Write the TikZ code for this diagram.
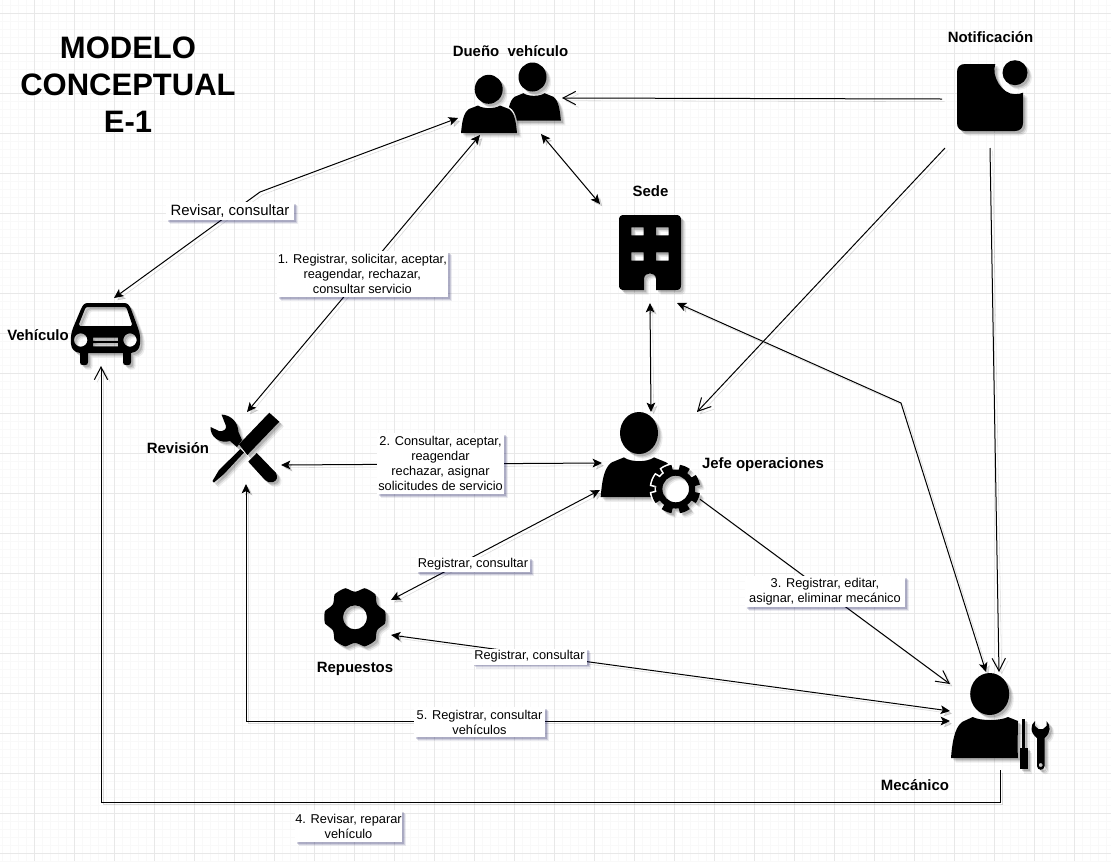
\documentclass[tikz,border=0pt]{standalone}
\usepackage{fontspec}
\setmainfont{Liberation Sans}
\usetikzlibrary{arrows.meta,shadows}
\tikzset{
  gridminor/.style={draw=black!2.5,line width=.5pt},
  gridmajor/.style={draw=black!9,line width=.6pt},
  conn/.style={line width=.75pt,draw=black,
    preaction={draw=black,opacity=.14,transform canvas={shift={(2pt,-2pt)}}}},
  blocktips/.style={conn,{Stealth[length=7pt,width=6.5pt,inset=1.6pt]}-{Stealth[length=7pt,width=6.5pt,inset=1.6pt]}},
  opentip/.style={conn,-{Straight Barb[length=9.5pt,width=10pt,line width=.75pt]}},
  lbl/.style 2 args={fill=white,inner sep=0pt,align=center,font=\fontsize{9.6}{11.25}\selectfont,
    minimum width=#1*.75pt,minimum height=#2*.75pt,
    drop shadow={shadow xshift=3pt,shadow yshift=-3pt,fill=black!70!blue,opacity=.08},
    drop shadow={shadow xshift=2.2pt,shadow yshift=-2.2pt,fill=black!70!blue,opacity=.12},
    drop shadow={shadow xshift=1.4pt,shadow yshift=-1.4pt,fill=black!70!blue,opacity=.16}},
  iconbox/.style 2 args={inner sep=0pt,minimum width=#1*.75pt,minimum height=#2*.75pt},
  nametext/.style={inner sep=0pt,font=\bfseries\fontsize{11.2}{12}\selectfont},
  titletext/.style={inner sep=0pt,align=center,font=\bfseries\fontsize{23.25}{27.75}\selectfont},
}
\newcommand{\shadowed}[1]{%
  \begin{scope}[shift={(4.6,4.6)},fill=black,fill opacity=.07]#1\end{scope}
  \begin{scope}[shift={(3.4,3.4)},fill=black,fill opacity=.11]#1\end{scope}
  \begin{scope}[shift={(2.2,2.2)},fill=black,fill opacity=.15]#1\end{scope}
  \begin{scope}[fill=black]#1\end{scope}}
% generic torso, origin at centre of its base; half width 28, height 27.5
\newcommand{\torso}{(-28,0) .. controls (-27,-10) and (-26,-20) .. (-20,-24) -- (-11,-27.5) .. controls (-6,-24) and (6,-24) .. (11,-27.5) -- (20,-24) .. controls (26,-20) and (27,-10) .. (28,0) -- cycle}
\newcommand{\bellgear}{plot[domain=0:360,samples=361] ({675.7+(cos(8*\x+180)>-0.2?24.5:19.5)*cos(\x)},{489+(cos(8*\x+180)>-0.2?24.5:19.5)*sin(\x)}) -- cycle}
\begin{document}
\begin{tikzpicture}[x=.75pt,y=-.75pt]
\useasboundingbox (0,0) rectangle (1111,861);
\fill[white] (0,0) rectangle (1111,861);
% grid
\foreach \gx in {2,10,...,1110} \draw[gridminor] (\gx,0) -- (\gx,861);
\foreach \gy in {5,13,...,861} \draw[gridminor] (0,\gy) -- (1111,\gy);
\foreach \gx in {34,74,...,1110} \draw[gridmajor] (\gx,0) -- (\gx,861);
\foreach \gy in {13,53,...,861} \draw[gridmajor] (0,\gy) -- (1111,\gy);

% icon anchors
\node[iconbox={100}{70}] (dueno) at (511,98) {};
\node[iconbox={71}{71}] (notif) at (992,96) {};
\node[iconbox={62}{75}] (sede) at (650,252.5) {};
\node[iconbox={69}{62}] (car) at (105.5,334) {};
\node[iconbox={70}{70}] (rev) at (244,447) {};
\node[iconbox={100}{102}] (jefe) at (650,465) {};
\node[iconbox={60}{60}] (rep) at (355,617) {};
\node[iconbox={100}{99}] (mec) at (1001,721.5) {};
\coordinate (wpA) at (260,192);
\coordinate (wpB) at (901,403);
\coordinate (wpC) at (101,802);

% connectors
\draw[opentip] ([shift={(-50,3)}]notif.center) -- ([shift={(51,0)}]dueno.center);
\draw[opentip] ([shift={(-47,52)}]notif.center) -- ([shift={(47,-53)}]jefe.center);
\draw[opentip] ([shift={(-2,52)}]notif.center) -- ([shift={(-2,-49.5)}]mec.center);
\draw[blocktips] ([shift={(30,36)}]dueno.center) -- ([shift={(-50,-48.5)}]sede.center);
\draw[blocktips] ([shift={(0,50.5)}]sede.center) -- ([shift={(1,-53)}]jefe.center);
\draw[blocktips] ([shift={(27,50.5)}]sede.center) -- (wpB) -- ([shift={(-15,-49.5)}]mec.center);
\draw[blocktips] ([shift={(-53,20)}]dueno.center) -- (wpA) -- ([shift={(8.5,-36)}]car.center);
\draw[blocktips] ([shift={(-31,37)}]dueno.center) -- ([shift={(3,-35)}]rev.center);
\draw[blocktips] ([shift={(37,18)}]rev.center) -- ([shift={(-48,-2)}]jefe.center);
\draw[blocktips] ([shift={(-50,25)}]jefe.center) -- ([shift={(36,-17)}]rep.center);
\draw[opentip] ([shift={(47,32)}]jefe.center) -- ([shift={(-51,-37.5)}]mec.center);
\draw[blocktips] ([shift={(36,18)}]rep.center) -- ([shift={(-51,-10.5)}]mec.center);
\draw[blocktips] ([shift={(2,37)}]rev.center) |- ([shift={(-51,-0.5)}]mec.center);
\draw[opentip] ([shift={(-1,48.5)}]mec.center) |- (wpC) -- ([shift={(-4.5,32)}]car.center);

% connector labels
\node[lbl={128}{18},font=\fontsize{11.2}{13}\selectfont] (lrev) at (230,211) {Revisar, consultar};
\node[lbl={171}{46}] (l1) at (362.3,274) {1. Registrar, solicitar, aceptar,\\reagendar, rechazar,\\consultar servicio};
\node[lbl={127}{61}] (l2) at (440.5,463.5) {2. Consultar, aceptar,\\reagendar\\rechazar, asignar\\solicitudes de servicio};
\node[lbl={114}{15}] (lr1) at (473,564.5) {Registrar, consultar};
\node[lbl={115}{16}] (lr2) at (529.5,656.5) {Registrar, consultar};
\node[lbl={160}{31}] (l3) at (825,591.5) {3. Registrar, editar,\\asignar, eliminar mecánico};
\node[lbl={131}{30}] (l5) at (479.5,722) {5. Registrar, consultar\\vehículos};
\node[lbl={107}{32}] (l4) at (348.5,826) {4. Revisar, reparar\\vehículo};

% Dueño
\shadowed{\fill (532.5,77) ellipse[x radius=14,y radius=14.5];
  \begin{scope}[shift={(534,120.7)},xscale=.96]\fill \torso;\end{scope}}
\begin{scope}[shift={(489,133)}]\filldraw[fill=white,draw=white,line width=2.2pt] \torso;\end{scope}
\shadowed{\fill (488.7,89.3) ellipse[x radius=14,y radius=14.5];
  \begin{scope}[shift={(489,133)}]\fill \torso;\end{scope}}

% Notificación
\shadowed{\fill (965,64) -- (995.3,64) .. controls (991,76) and (1002,94.5) .. (1015,94.2) .. controls (1018,94.2) and (1021,93.6) .. (1023,92.7) -- (1023,123) .. controls (1023,128) and (1020,131) .. (1015,131) -- (965,131) .. controls (960,131) and (957,128) .. (957,123) -- (957,72) .. controls (957,67) and (960,64) .. (965,64) -- cycle;
  \fill (1015,72.7) circle[radius=12.5];}

% Sede
\shadowed{\fill[even odd rule] (624,215) -- (676,215) .. controls (679.5,215) and (681,216.5) .. (681,220) -- (681,285) .. controls (681,288.5) and (679.5,290) .. (676,290) -- (656,290) -- (656,279) .. controls (656,271.5) and (644,271.5) .. (644,279) -- (644,290) -- (624,290) .. controls (620.5,290) and (619,288.5) .. (619,285) -- (619,220) .. controls (619,216.5) and (620.5,215) .. (624,215) -- cycle
  (631.3,227.3) rectangle (643.7,235.3) (656,227.3) rectangle (668.7,235.3)
  (631.3,252.3) rectangle (643.7,260.7) (656,252.3) rectangle (668.7,260.7);}

% Vehículo
\shadowed{\fill[even odd rule] (88,303) -- (124,303) .. controls (128,303) and (129,305) .. (131,309) -- (138,328) .. controls (140,333) and (140.5,338) .. (140,344) .. controls (139.5,349) and (137,352) .. (131,353) -- (131,362) .. controls (131,364.5) and (130,365) .. (128,365) -- (126,365) .. controls (124,365) and (123,364.5) .. (123,362) -- (123,353) -- (88,353) -- (88,362) .. controls (88,364.5) and (87,365) .. (85,365) -- (83,365) .. controls (81,365) and (80,364.5) .. (80,362) -- (80,353) .. controls (74,352) and (71.5,349) .. (71,344) .. controls (70.5,338) and (71,333) .. (73,328) -- (81,309) .. controls (83,305) and (84,303) .. (88,303) -- cycle
  (88,307) -- (124,307) .. controls (126,307) and (126.5,308) .. (127,309) -- (132,324) -- (131,326) -- (80,326) -- (79,324) -- (85,309) .. controls (85.5,308) and (86,307) .. (88,307) -- cycle
  (80.7,340) circle[radius=6.7] (130,340) circle[radius=6.7]
  (93,337.5) rectangle (118,340.8) (93,343) rectangle (118,346.3);}

% Revisión
\shadowed{\fill (269.3,412.7) -- (279.3,421.7) -- (247.3,455) -- (239,444.3) -- cycle;
  \fill (240.5,449) -- (244,452.5) -- (224,474) -- (214,482.5) -- (212.5,481) -- (219,470) -- cycle;
  \fill (256.7,453) -- (276,473) .. controls (278,477) and (277,481) .. (273,482) .. controls (270,483) and (267,482) .. (265,480) -- (248.3,461.7) -- cycle;
  \fill (221.5,414.5) .. controls (231,415) and (238,422) .. (238.5,432) -- (242,440) -- (237,447) -- (230,441) .. controls (220,444) and (210,437) .. (210.5,427) -- (219,431) .. controls (223,432) and (227,429) .. (226,426) -- cycle;}

% Jefe
\shadowed{\fill (639,433) ellipse[x radius=19,y radius=21];
  \begin{scope}[shift={(639,497)},xscale=1.37,yscale=1.44]\fill \torso;\end{scope}}
\filldraw[fill=white,draw=white,line width=2.4pt] \bellgear;
\shadowed{\fill[even odd rule] \bellgear (675.7,489) circle[radius=13.3];}

% Repuestos
\shadowed{\fill[even odd rule] plot[domain=0:360,samples=121,smooth] ({355+(25.7+5*min(1,.75*(1+cos(6*\x))))*cos(\x)},{617.3+(25.7+5*min(1,.75*(1+cos(6*\x))))*sin(\x)}) -- cycle (355,617.3) circle[radius=12];}

% Mecánico
\shadowed{\fill (989.7,694) ellipse[x radius=19.5,y radius=21];
  \fill (951,758) .. controls (952,745) and (954,728) .. (962,722) -- (972.7,717) .. controls (980,721) and (1000,721) .. (1008,717) -- (1018,721) -- (1017.5,748) -- (1018,758) -- cycle;
  \fill (1021.7,719) rectangle (1025,748);
  \fill (1019.5,748) rectangle (1027.5,769);
  \fill[even odd rule] (1035,721) .. controls (1030,725) and (1030,733) .. (1037,738) -- (1037,766) .. controls (1037,771) and (1044.5,771) .. (1044.5,766) -- (1044.5,738) .. controls (1051,733) and (1051,725) .. (1046.5,721) -- (1046.5,726) -- (1043,729) -- (1038.5,729) -- (1035,726) -- cycle (1040.7,765) circle[radius=2];}

% names
\node[titletext] (title) at (128,85) {MODELO\\CONCEPTUAL\\E-1};
\node[nametext] (tdueno) at (510.5,51) {Dueño\ \ vehículo};
\node[nametext] (tnotif) at (990.5,37) {Notificación};
\node[nametext] (tsede) at (650.5,191) {Sede};
\node[nametext] (tcar) at (38,335) {Vehículo};
\node[nametext] (trev) at (178,448) {Revisión};
\node[nametext] (tjefe) at (763,464.5) {Jefe operaciones};
\node[nametext] (trep) at (355,669) {Repuestos};
\node[nametext] (tmec) at (915,785) {Mecánico};
\end{tikzpicture}
\end{document}
